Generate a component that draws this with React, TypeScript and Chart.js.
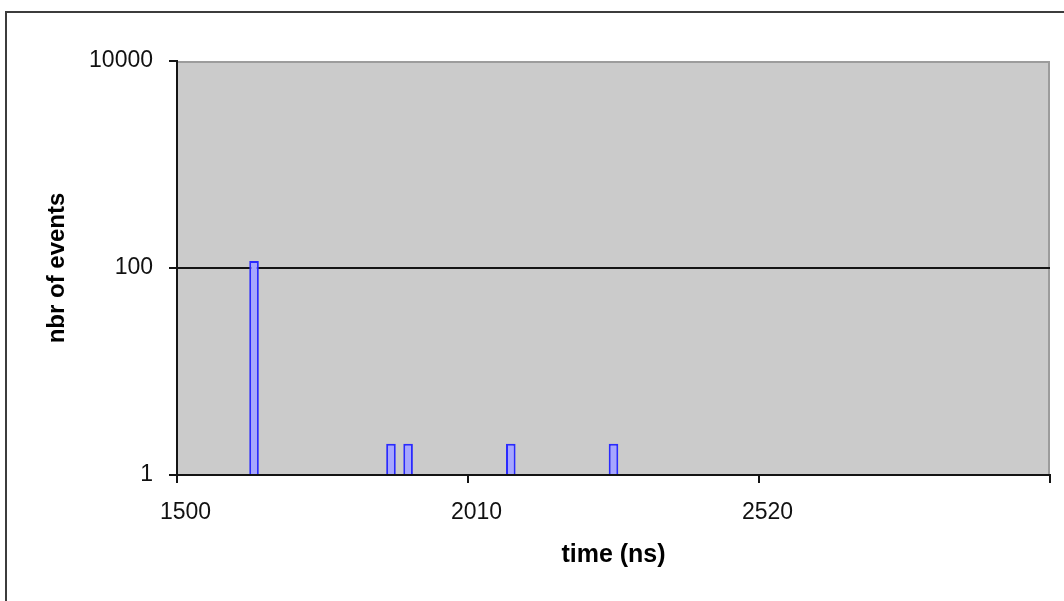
import React, { useEffect, useRef } from "react";
import { Chart, registerables } from "chart.js";

Chart.register(...registerables);

// time bins (ns), 30 ns wide
const categories: number[] = [
  1500, 1530, 1560, 1590, 1620, 1650, 1680, 1710, 1740, 1770,
  1800, 1830, 1860, 1890, 1920, 1950, 1980, 2010, 2040, 2070,
  2100, 2130, 2160, 2190, 2220, 2250, 2280, 2310, 2340, 2370,
  2400, 2430, 2460, 2490, 2520, 2550, 2580, 2610, 2640, 2670,
  2700, 2730, 2760, 2790, 2820, 2850, 2880, 2910, 2940, 2970,
  3000,
];

// number of events per bin
const counts: number[] = [
  0, 0, 0, 0, 117, 0, 0, 0, 0, 0,
  0, 0, 2, 2, 0, 0, 0, 0, 0, 2,
  0, 0, 0, 0, 0, 2, 0, 0, 0, 0,
  0, 0, 0, 0, 0, 0, 0, 0, 0, 0,
  0, 0, 0, 0, 0, 0, 0, 0, 0, 0,
  0,
];

const yTickValues: number[] = [1, 100, 10000];
const xLabelEvery = 17;

const FONT = "'Liberation Sans', Arial, sans-serif";
const AXIS = "#141414";

const framePlugin = {
  id: "framePlugin",
  beforeDraw(chart: any) {
    const { ctx, chartArea: a, width, height } = chart;
    ctx.save();
    ctx.fillStyle = "#ffffff";
    ctx.fillRect(0, 0, width, height);
    // outer chart frame
    ctx.strokeStyle = "#3c3c3c";
    ctx.lineWidth = 2;
    ctx.beginPath();
    ctx.moveTo(6, height + 10);
    ctx.lineTo(6, 12);
    ctx.lineTo(width + 10, 12);
    ctx.stroke();
    // plot area
    ctx.fillStyle = "#cbcbcb";
    ctx.fillRect(a.left, a.top, a.right - a.left, a.bottom - a.top);
    ctx.strokeStyle = "#9c9c9c";
    ctx.lineWidth = 2;
    ctx.beginPath();
    ctx.moveTo(a.left, a.top + 1);
    ctx.lineTo(a.right - 1, a.top + 1);
    ctx.lineTo(a.right - 1, a.bottom);
    ctx.stroke();
    ctx.restore();
  },
};

export default function App() {
  const ref = useRef<HTMLCanvasElement | null>(null);

  useEffect(() => {
    if (!ref.current) return;
    const chart = new Chart(ref.current, {
      type: "bar",
      data: {
        labels: categories.map(String),
        datasets: [
          {
            data: counts.map((c) => (c > 0 ? c : null)),
            backgroundColor: "#a6a6ff",
            borderColor: "#2a2aff",
            borderWidth: 2,
            barPercentage: 0.56,
            categoryPercentage: 1,
          },
        ],
      },
      options: {
        responsive: false,
        animation: false,
        devicePixelRatio: 1,
        layout: { padding: { left: 0, top: 61, right: 14, bottom: 0 } },
        plugins: {
          legend: { display: false },
          tooltip: { enabled: false },
        },
        scales: {
          x: {
            type: "category",
            offset: true,
            afterFit: (s: any) => {
              s.height = 126;
            },
            ticks: {
              autoSkip: false,
              maxRotation: 0,
              minRotation: 0,
              padding: 16,
              color: "#111",
              font: { family: FONT, size: 23 },
              callback: (_v: any, i: number) =>
                i % xLabelEvery === 0 ? String(categories[i]) : "",
            },
            grid: {
              offset: true,
              drawOnChartArea: false,
              drawTicks: true,
              tickLength: 8,
              lineWidth: 2,
              color: (c: any) =>
                c.type !== "tick" || c.index % xLabelEvery === 0 ? AXIS : "rgba(0,0,0,0)",
              tickColor: (c: any) =>
                c.type !== "tick" || c.index % xLabelEvery === 0 ? AXIS : "rgba(0,0,0,0)",
            },
            border: { display: true, color: AXIS, width: 2, z: 1 },
            title: {
              display: true,
              text: "time (ns)",
              color: "#000",
              font: { family: FONT, size: 25, weight: "bold" },
              padding: { top: 0, bottom: 31 },
            },
          },
          y: {
            type: "logarithmic",
            min: 1,
            max: 10000,
            afterBuildTicks: (s: any) => {
              s.ticks = yTickValues.map((v) => ({ value: v }));
            },
            afterFit: (s: any) => {
              s.width = 177;
            },
            ticks: {
              autoSkip: false,
              padding: 16,
              color: "#111",
              font: { family: FONT, size: 23 },
              callback: (v: any) => String(v),
            },
            grid: {
              drawTicks: true,
              tickLength: 8,
              lineWidth: 2,
              color: (c: any) =>
                c.tick && c.tick.value === 100 ? AXIS : "rgba(0,0,0,0)",
              tickColor: AXIS,
            },
            border: { display: true, color: AXIS, width: 2, z: 1 },
            title: {
              display: true,
              text: "nbr of events",
              color: "#000",
              font: { family: FONT, size: 24, weight: "bold" },
              padding: { top: 43, bottom: 0 },
            },
          },
        },
      } as any,
      plugins: [framePlugin],
    });
    return () => chart.destroy();
  }, []);

  return (
    <div
      style={{
        position: "fixed",
        left: 0,
        top: 0,
        width: 1064,
        height: 601,
        background: "#fff",
      }}
    >
      <canvas ref={ref} width={1064} height={601} />
    </div>
  );
}
